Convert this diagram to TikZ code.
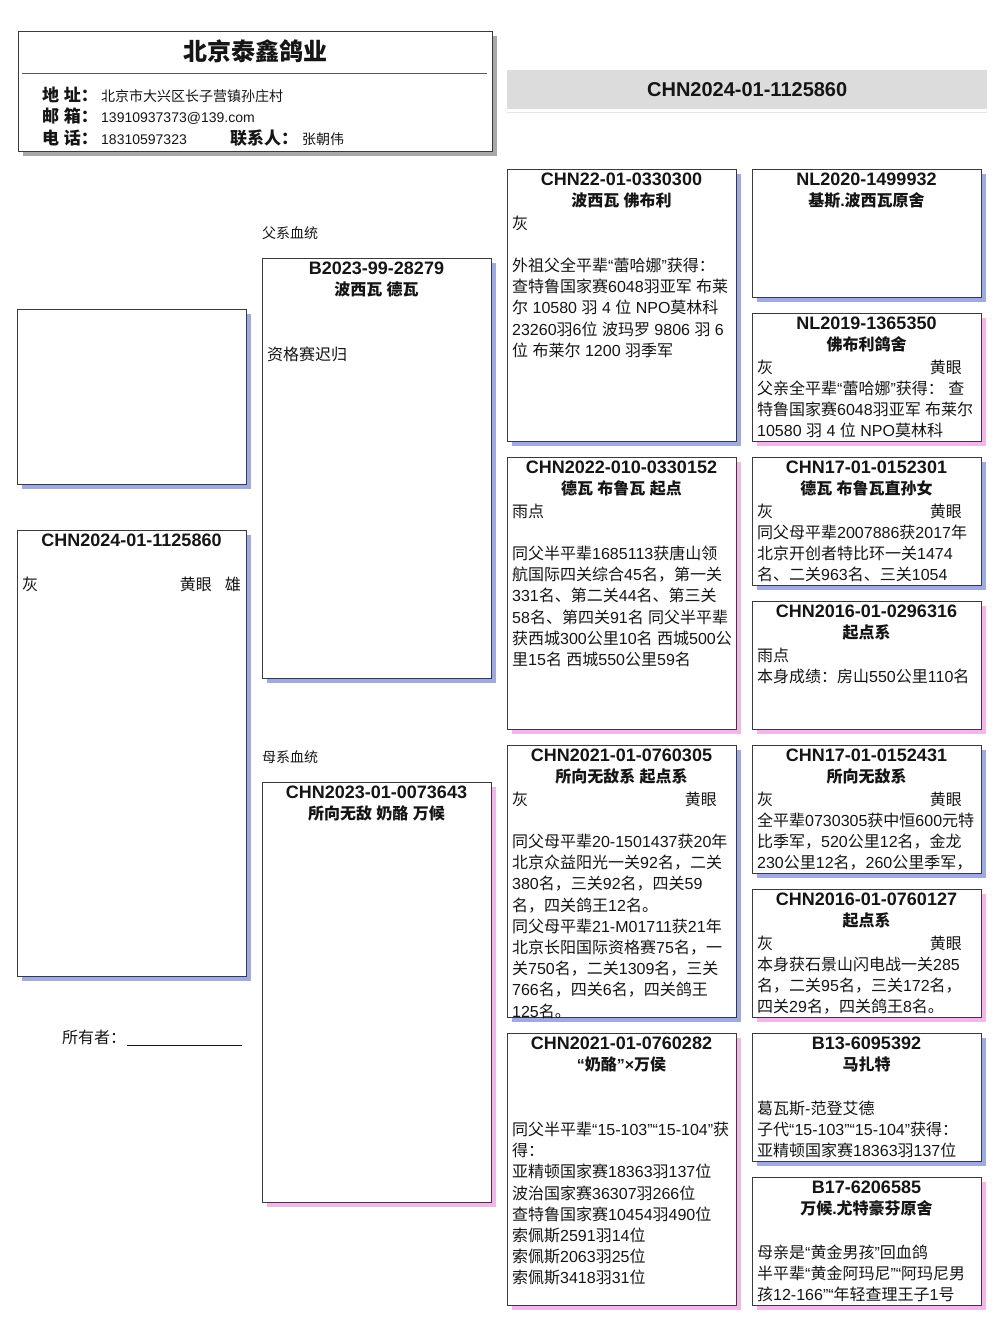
\documentclass[tikz,border=0pt]{standalone}
\usepackage{fontspec}
\setmainfont{Liberation Sans}
\newfontfamily\latf{Liberation Sans}
\newfontfamily\cjkf{Noto Sans CJK SC}
\usetikzlibrary{shadows}
% automatic font switching: CJK characters in Noto Sans CJK SC, the rest in Liberation Sans
\XeTeXinterchartokenstate=1
\newXeTeXintercharclass\cjkcls
\newcount\cjkcc
\cjkcc=0
\loop\XeTeXcharclass\cjkcc=0 \advance\cjkcc by 1 \ifnum\cjkcc<"2E80 \repeat
\cjkcc="2E80
\loop\XeTeXcharclass\cjkcc=\cjkcls \advance\cjkcc by 1 \ifnum\cjkcc<"A000 \repeat
\cjkcc="FF00
\loop\XeTeXcharclass\cjkcc=\cjkcls \advance\cjkcc by 1 \ifnum\cjkcc<"FFF0 \repeat
\XeTeXinterchartoks 0 \cjkcls={\cjkf}
\XeTeXinterchartoks 4095 \cjkcls={\cjkf}
\XeTeXinterchartoks \cjkcls 0={\latf}
\XeTeXinterchartoks \cjkcls 4095={\latf}

\definecolor{boxline}{HTML}{3A3A3A}
\definecolor{shblue}{HTML}{9DAAE6}
\definecolor{shpink}{HTML}{F2B6EC}
\definecolor{shgray}{HTML}{A8A8A8}
\definecolor{barfill}{HTML}{DCDCDC}
\definecolor{txt}{HTML}{151515}

\newcommand\mkcard[5]{\node[card, minimum height=#4pt, drop shadow={shadow xshift=4pt, shadow yshift=-4pt, fill=#5, opacity=1}] (#1) at (#2,#3) {};}
\newcommand\cardhd[5]{%
  \node[idtxt] (#1id) at ({#2+114.5},{#3+16.5}) {#4};
  \node[subtxt] (#1sub) at ({#2+114.5},{#3+37}) {#5};}
\newcommand\colline[4]{\node[body] (#1col) at ({#2+5},{#3+60}) {#4};}
\newcommand\eyetag[3]{\node[body, anchor=base east] (#1eye) at ({#2+210},{#3+60}) {黄眼};}
\newcommand\bodylines[5]{%
  \foreach \bl [count=\i from #4] in {#5} {\node[body] (#1l\i) at ({#2+5},{#3+60+21.2*\i}) {\bl};}}

\begin{document}
\begin{tikzpicture}[x=1pt,y=-1pt,
  card/.style={draw=boxline, fill=white, line width=1pt, minimum width=229pt, inner sep=0pt, anchor=north west},
  idtxt/.style={font=\bfseries\fontsize{18}{21}\selectfont, anchor=base, inner sep=0pt, text=txt},
  subtxt/.style={font=\bfseries\fontsize{16}{19}\selectfont, anchor=base, inner sep=0pt, text=txt},
  body/.style={font=\fontsize{16}{19}\selectfont, anchor=base west, inner sep=0pt, text=txt},
  lab/.style={font=\bfseries\fontsize{17}{20}\selectfont, anchor=base west, inner sep=0pt, text=txt},
  val/.style={font=\fontsize{14}{17}\selectfont, anchor=base west, inner sep=0pt, text=txt},
  small/.style={font=\fontsize{14}{17}\selectfont, anchor=base west, inner sep=0pt, text=txt}]
\fill[white] (0,0) rectangle (1004,1318);
\useasboundingbox (0,0) rectangle (1004,1318);

% header box
\node[draw=boxline, fill=white, line width=1pt, minimum width=474pt, minimum height=120pt, inner sep=0pt, anchor=north west,
  drop shadow={shadow xshift=4pt, shadow yshift=-4pt, fill=shgray, opacity=1}] (hdr) at (18,31) {};
\node[font=\bfseries\fontsize{24}{28}\selectfont, anchor=base, inner sep=0pt, text=txt] (cname) at (255,60) {北京泰鑫鸽业};
\coordinate (hl1) at (22,73.5);
\coordinate (hl2) at (487,73.5);
\draw[color=boxline!85, line width=1pt] (hl1) -- (hl2);
\node[lab] (la1) at (42,101) {地 址：};
\node[lab] (la2) at (42,122) {邮 箱：};
\node[lab] (la3) at (42,144) {电 话：};
\node[lab] (la4) at (230,144) {联系人：};
\node[val] (va1) at (101,101) {北京市大兴区长子营镇孙庄村};
\node[val] (va2) at (101,122) {13910937373@139.com};
\node[val] (va3) at (101,144) {18310597323};
\node[val] (va4) at (302,144) {张朝伟};

% title bar
\node[fill=barfill, minimum width=480pt, minimum height=39pt, anchor=north west, inner sep=0pt,
  font=\bfseries\fontsize{20}{24}\selectfont, text=txt] (tbar) at (507,70) {CHN2024-01-1125860};
\coordinate (tl1) at (507,112.5);
\coordinate (tl2) at (987,112.5);
\draw[color=black!10, line width=1.5pt] (tl1) -- (tl2);

% photo and subject
\mkcard{photo}{17}{309}{175}{shblue}
\mkcard{subj}{17}{530}{446}{shblue}
\node[idtxt] (subjid) at (131.5,546.5) {CHN2024-01-1125860};
\node[body] (subjcol) at (22,590) {灰};
\node[body, anchor=base east] (subjeye) at (212,590) {黄眼};
\node[body, anchor=base east] (subjsex) at (241,590) {雄};
\node[body] (owner) at (62,1043) {所有者：};
\coordinate (ul1) at (126.5,1045.5);
\coordinate (ul2) at (242,1045.5);
\draw[color=txt, line width=1pt] (ul1) -- (ul2);

% parents
\node[small] (flab) at (262,238) {父系血统};
\node[small] (mlab) at (262,762) {母系血统};
\mkcard{fa}{262}{258}{420}{shblue}
\cardhd{fa}{262}{258}{B2023-99-28279}{波西瓦 德瓦}
\bodylines{fa}{262}{258}{2}{资格赛迟归}
\mkcard{mo}{262}{782}{420}{shpink}
\cardhd{mo}{262}{782}{CHN2023-01-0073643}{所向无敌 奶酪 万候}

% grandparents
\mkcard{ga}{507}{169}{272}{shblue}
\cardhd{ga}{507}{169}{CHN22-01-0330300}{波西瓦 佛布利}
\colline{ga}{507}{169}{灰}
\bodylines{ga}{507}{169}{2}{外祖父全平辈“蕾哈娜”获得：, 查特鲁国家赛6048羽亚军 布莱, 尔 10580 羽 4 位 NPO莫林科, 23260羽6位 波玛罗 9806 羽 6, 位 布莱尔 1200 羽季军}

\mkcard{gb}{507}{457}{272}{shpink}
\cardhd{gb}{507}{457}{CHN2022-010-0330152}{德瓦 布鲁瓦 起点}
\colline{gb}{507}{457}{雨点}
\bodylines{gb}{507}{457}{2}{同父半平辈1685113获唐山领, 航国际四关综合45名，第一关, 331名、第二关44名、第三关, 58名、第四关91名 同父半平辈, 获西城300公里10名 西城500公, 里15名 西城550公里59名}

\mkcard{gc}{507}{745}{272}{shblue}
\cardhd{gc}{507}{745}{CHN2021-01-0760305}{所向无敌系 起点系}
\colline{gc}{507}{745}{灰}
\eyetag{gc}{507}{745}
\bodylines{gc}{507}{745}{2}{同父母平辈20-1501437获20年, 北京众益阳光一关92名，二关, 380名，三关92名，四关59, 名，四关鸽王12名。, 同父母平辈21-M01711获21年, 北京长阳国际资格赛75名，一, 关750名，二关1309名，三关, 766名，四关6名，四关鸽王, 125名。}

\mkcard{gd}{507}{1033}{272}{shpink}
\cardhd{gd}{507}{1033}{CHN2021-01-0760282}{“奶酪”×万侯}
\bodylines{gd}{507}{1033}{2}{同父半平辈“15-103”“15-104”获, 得：, 亚精顿国家赛18363羽137位, 波治国家赛36307羽266位, 查特鲁国家赛10454羽490位, 索佩斯2591羽14位, 索佩斯2063羽25位, 索佩斯3418羽31位}

% great-grandparents
\mkcard{ha}{752}{169}{128}{shblue}
\cardhd{ha}{752}{169}{NL2020-1499932}{基斯.波西瓦原舍}

\mkcard{hb}{752}{313}{128}{shpink}
\cardhd{hb}{752}{313}{NL2019-1365350}{佛布利鸽舍}
\colline{hb}{752}{313}{灰}
\eyetag{hb}{752}{313}
\bodylines{hb}{752}{313}{1}{父亲全平辈“蕾哈娜”获得： 查, 特鲁国家赛6048羽亚军 布莱尔, 10580 羽 4 位 NPO莫林科}

\mkcard{hc}{752}{457}{128}{shblue}
\cardhd{hc}{752}{457}{CHN17-01-0152301}{德瓦 布鲁瓦直孙女}
\colline{hc}{752}{457}{灰}
\eyetag{hc}{752}{457}
\bodylines{hc}{752}{457}{1}{同父母平辈2007886获2017年, 北京开创者特比环一关1474, 名、二关963名、三关1054}

\mkcard{hd}{752}{601}{128}{shpink}
\cardhd{hd}{752}{601}{CHN2016-01-0296316}{起点系}
\colline{hd}{752}{601}{雨点}
\bodylines{hd}{752}{601}{1}{本身成绩：房山550公里110名}

\mkcard{he}{752}{745}{128}{shblue}
\cardhd{he}{752}{745}{CHN17-01-0152431}{所向无敌系}
\colline{he}{752}{745}{灰}
\eyetag{he}{752}{745}
\bodylines{he}{752}{745}{1}{全平辈0730305获中恒600元特, 比季军，520公里12名，金龙, 230公里12名，260公里季军，}

\mkcard{hf}{752}{889}{128}{shpink}
\cardhd{hf}{752}{889}{CHN2016-01-0760127}{起点系}
\colline{hf}{752}{889}{灰}
\eyetag{hf}{752}{889}
\bodylines{hf}{752}{889}{1}{本身获石景山闪电战一关285, 名，二关95名，三关172名，, 四关29名，四关鸽王8名。}

\mkcard{hg}{752}{1033}{128}{shblue}
\cardhd{hg}{752}{1033}{B13-6095392}{马扎特}
\bodylines{hg}{752}{1033}{1}{葛瓦斯-范登艾德, 子代“15-103”“15-104”获得：, 亚精顿国家赛18363羽137位}

\mkcard{hh}{752}{1177}{128}{shpink}
\cardhd{hh}{752}{1177}{B17-6206585}{万候.尤特豪芬原舍}
\bodylines{hh}{752}{1177}{1}{母亲是“黄金男孩”回血鸽, 半平辈“黄金阿玛尼”“阿玛尼男, 孩12-166”“年轻查理王子1号}
\end{tikzpicture}
\end{document}
